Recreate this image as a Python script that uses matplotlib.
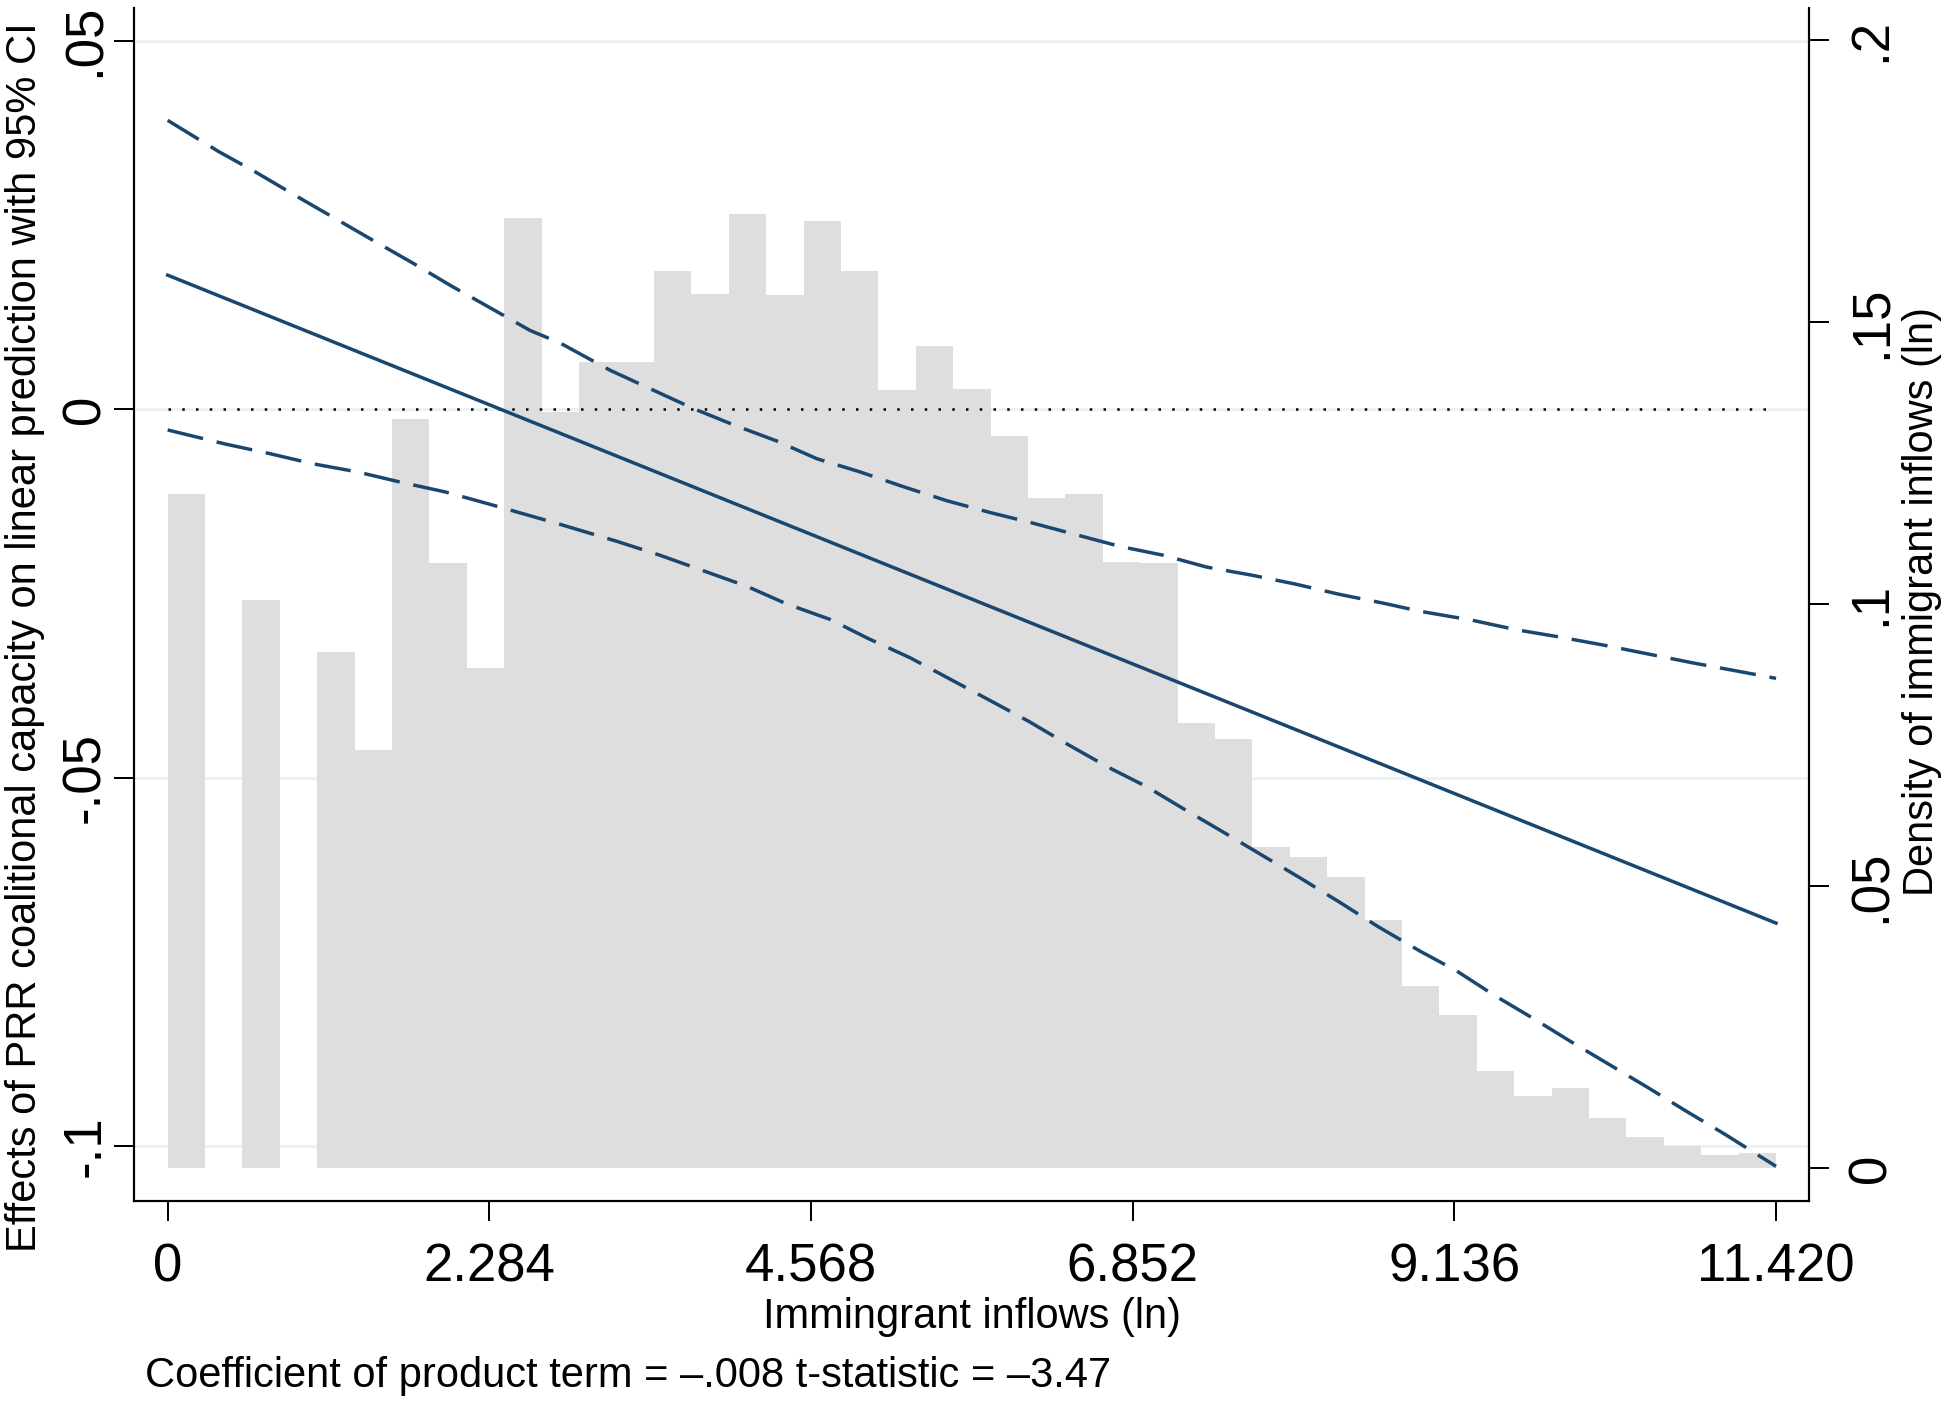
import numpy as np
import matplotlib
matplotlib.use("Agg")
import matplotlib.pyplot as plt
from matplotlib.transforms import blended_transform_factory

plt.rcParams['font.family'] = ['Liberation Sans', 'DejaVu Sans']

# ---- data ----
x_ticks = [0, 2.284, 4.568, 6.852, 9.136, 11.420]
x_tick_labels = ["0", "2.284", "4.568", "6.852", "9.136", "11.420"]
effect_ticks = [-0.1, -0.05, 0, 0.05]
effect_tick_labels = ["-.1", "-.05", "0", ".05"]
density_ticks = [0, 0.05, 0.1, 0.15, 0.2]
density_tick_labels = ["0", ".05", ".1", ".15", ".2"]

# histogram of immigrant inflows (ln): 43 bins between 0 and 11.42
hist_min, hist_max = 0.0, 11.42
density = [0.1195, 0.0, 0.1007, 0.0, 0.0916, 0.0742, 0.1328, 0.1074, 0.0887,
           0.1686, 0.1341, 0.1429, 0.1429, 0.1592, 0.1551, 0.1693, 0.1549,
           0.1679, 0.1592, 0.1381, 0.1458, 0.1382, 0.1298, 0.1189, 0.1196,
           0.1076, 0.1074, 0.0790, 0.0761, 0.0569, 0.0552, 0.0517, 0.0441,
           0.0324, 0.0272, 0.0172, 0.0129, 0.0142, 0.0090, 0.0056, 0.0040,
           0.0023, 0.0027]

# linear prediction of the marginal effect
effect_x = [0.0, 11.42]
effect_y = [0.0182, -0.0697]

# 95% CI bounds
upper_x = [0.000, 0.359, 0.632, 0.916, 1.188, 1.460, 1.744, 2.017, 2.296,
           2.573, 2.786, 3.141, 3.448, 3.733, 4.017, 4.325, 4.609, 4.917,
           5.224, 5.532, 5.839, 6.135, 6.448, 6.762, 7.070, 7.377, 7.697,
           8.005, 8.319, 8.632, 8.892, 9.259, 9.574, 9.886, 10.199, 10.514,
           10.829, 11.141, 11.420]
upper_y = [0.0392, 0.0350, 0.0321, 0.0289, 0.0259, 0.0229, 0.0198, 0.0167,
           0.0137, 0.0107, 0.0090, 0.0053, 0.0026, 0.0001, -0.0021, -0.0043,
           -0.0067, -0.0085, -0.0105, -0.0124, -0.0140, -0.0154, -0.0170,
           -0.0186, -0.0198, -0.0214, -0.0225, -0.0237, -0.0251, -0.0263,
           -0.0274, -0.0286, -0.0299, -0.0309, -0.0320, -0.0332, -0.0344,
           -0.0355, -0.0365]
lower_x = [0.000, 0.407, 0.722, 1.034, 1.349, 1.657, 1.969, 2.272, 2.585,
           2.786, 3.188, 3.496, 3.803, 4.111, 4.395, 4.703, 4.975, 5.271,
           5.555, 5.839, 6.111, 6.395, 6.672, 6.952, 7.231, 7.508, 7.780,
           8.052, 8.324, 8.596, 8.892, 9.153, 9.420, 9.693, 9.965, 10.237,
           10.509, 10.781, 11.053, 11.420]
lower_y = [-0.0028, -0.0047, -0.0060, -0.0074, -0.0085, -0.0099, -0.0112,
           -0.0128, -0.0145, -0.0156, -0.0179, -0.0198, -0.0219, -0.0240,
           -0.0264, -0.0285, -0.0311, -0.0337, -0.0366, -0.0395, -0.0423,
           -0.0455, -0.0485, -0.0512, -0.0544, -0.0575, -0.0606, -0.0637,
           -0.0669, -0.0702, -0.0735, -0.0762, -0.0795, -0.0826, -0.0858,
           -0.0889, -0.0920, -0.0952, -0.0983, -0.1027]

caption = "Coefficient of product term = \u2013.008 t-statistic = \u20133.47"

navy = "#1a476f"
grid_col = "#eaf2f3"
bar_col = "#dedede"

# ---- figure ----
fig = plt.figure(figsize=(19.5, 14.02), dpi=100)
ax = fig.add_axes([0.06872, 0.14337, 0.85897, 0.85071])   # effects (left axis)
axd = ax.twinx()                                           # density (right axis)
axd.set_zorder(0)
ax.set_zorder(1)
ax.patch.set_visible(False)
axd.patch.set_visible(True)
axd.patch.set_facecolor("white")

ax.set_xlim(-0.239, 11.654)
ax.set_ylim(-0.1074, 0.0544)
axd.set_ylim(-0.0058, 0.2057)

# grid lines of the left axis, drawn underneath the histogram
grid_tr = blended_transform_factory(axd.transAxes, ax.transData)
for v in effect_ticks:
    axd.plot([0, 1], [v, v], transform=grid_tr, color=grid_col, lw=2.2,
             zorder=0.5, solid_capstyle="butt")

# histogram
edges = np.linspace(hist_min, hist_max, len(density) + 1)
axd.bar(edges[:-1], density, width=np.diff(edges), align="edge",
        color=bar_col, linewidth=0, zorder=1)

# zero reference, prediction and CI
ax.plot([hist_min, hist_max], [0, 0], color="black", lw=1.8,
        linestyle=(0, (1, 4.5)), zorder=2)
ax.plot(effect_x, effect_y, color=navy, lw=2.5, zorder=3)
ax.plot(upper_x, upper_y, color=navy, lw=2.5, dashes=(10.5, 4), zorder=3)
ax.plot(lower_x, lower_y, color=navy, lw=2.5, dashes=(10.5, 4), zorder=3)

# spines
for a in (ax, axd):
    a.spines["top"].set_visible(False)
    for s in ("left", "right", "bottom"):
        a.spines[s].set_linewidth(1.5)
        a.spines[s].set_color("black")

# ticks
ax.set_xticks(x_ticks, x_tick_labels)
ax.set_yticks(effect_ticks, effect_tick_labels)
axd.set_yticks(density_ticks, density_tick_labels)

ax.tick_params(axis="x", direction="out", length=14.4, width=1.44,
               labelsize=38, pad=15.5)
ax.tick_params(axis="y", direction="out", length=14.4, width=1.44,
               labelsize=38, pad=2.5, labelrotation=90)
axd.tick_params(axis="y", direction="out", length=14.4, width=1.44,
                labelsize=38, pad=12.5, labelrotation=90)
plt.setp(ax.get_yticklabels(), va="center")
plt.setp(axd.get_yticklabels(), va="center")

# titles
fig.text(0.0128, 0.5456,
         "Effects of PRR coalitional capacity on linear prediction with 95% CI",
         rotation=90, ha="center", va="center", fontsize=30)
fig.text(0.9855, 0.571, "Density of immigrant inflows (ln)",
         rotation=90, ha="center", va="center", fontsize=30)
fig.text(0.4985, 0.0528, "Immingrant inflows (ln)",
         ha="center", va="baseline", fontsize=30)
fig.text(0.0744, 0.0107, caption, ha="left", va="baseline", fontsize=30)

fig.savefig("out.png", dpi=100)
